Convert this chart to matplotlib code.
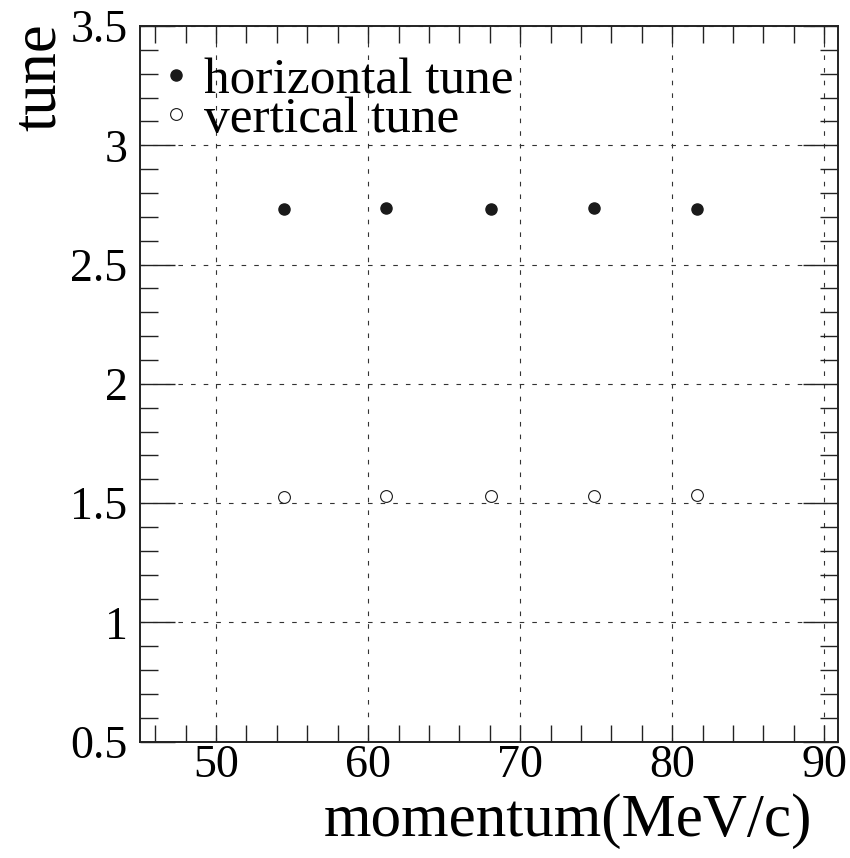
"""
Horizontal and vertical tune versus beam momentum.
"""

import matplotlib
matplotlib.use("Agg")
import matplotlib.pyplot as plt
from matplotlib.ticker import MultipleLocator

plt.rcParams['font.family'] = ['Liberation Serif', 'DejaVu Serif']
plt.rcParams['lines.scale_dashes'] = False

# measured tunes at each momentum setting
momentum = [54.45, 61.2, 68.1, 74.85, 81.65]   # MeV/c
tune_h = [2.732, 2.739, 2.732, 2.739, 2.732]
tune_v = [1.527, 1.528, 1.532, 1.532, 1.535]

fig = plt.figure(figsize=(8.5, 8.58), dpi=100)
ax = fig.add_axes([0.1647, 0.1355, 0.8212, 0.8342])

ax.plot(momentum, tune_h, linestyle='none', marker='o', ms=8,
        color='#1a1a1a', mec='#1a1a1a', label='horizontal tune')
ax.plot(momentum, tune_v, linestyle='none', marker='o', ms=8.5,
        mfc='white', mec='#1a1a1a', mew=0.8, label='vertical tune')

ax.set_xlim(45, 90.9)
ax.set_ylim(0.5, 3.5)

ax.xaxis.set_major_locator(MultipleLocator(10))
ax.xaxis.set_minor_locator(MultipleLocator(2))
ax.yaxis.set_major_locator(MultipleLocator(0.5))
ax.yaxis.set_minor_locator(MultipleLocator(0.1))
ax.yaxis.set_major_formatter(plt.FuncFormatter(lambda v, p: '%g' % v))

ax.tick_params(axis='both', which='both', direction='in',
               top=True, right=True, color='#222222', width=1.0)
ax.tick_params(axis='x', which='both', length=12.5, pad=2, labelsize=33)
ax.tick_params(axis='y', which='major', length=25, pad=9, labelsize=33)
ax.tick_params(axis='y', which='minor', length=13)

for s in ax.spines.values():
    s.set_linewidth(1.4)
    s.set_color('#222222')

ax.grid(True, which='major', color='#333333', linewidth=0.8,
        linestyle=(0, (3.3, 5.8)))
ax.set_axisbelow(True)

ax.set_xlabel('momentum(MeV/c)', fontsize=44, ha='right', va='baseline')
ax.xaxis.set_label_coords(0.963, -0.131)
ax.set_ylabel('tune', fontsize=45, ha='right', va='center')
ax.yaxis.set_label_coords(-0.143, 1.004)

leg = ax.legend(loc='upper left', bbox_to_anchor=(0.029, 0.956),
                frameon=False, fontsize=37, numpoints=1,
                handlelength=0.6, handletextpad=0.25,
                labelspacing=-0.16, borderpad=0, borderaxespad=0)

fig.savefig('out.png', dpi=100)
